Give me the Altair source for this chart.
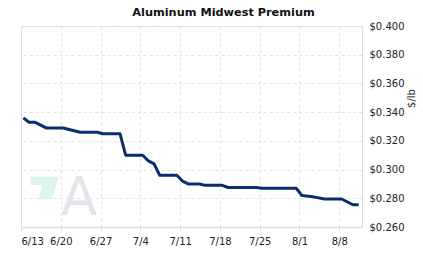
import altair as alt
import pandas as pd

dates = [
    "2022-06-13", "2022-06-14", "2022-06-15", "2022-06-17", "2022-06-20",
    "2022-06-23", "2022-06-26", "2022-06-27", "2022-06-30", "2022-07-01",
    "2022-07-04", "2022-07-05", "2022-07-06", "2022-07-07", "2022-07-10",
    "2022-07-11", "2022-07-12", "2022-07-14", "2022-07-15", "2022-07-18",
    "2022-07-19", "2022-07-24", "2022-07-25", "2022-07-31", "2022-08-01",
    "2022-08-03", "2022-08-05", "2022-08-08", "2022-08-10", "2022-08-11",
]
values = [
    0.336, 0.333, 0.333, 0.329, 0.329,
    0.326, 0.326, 0.325, 0.325, 0.310,
    0.310, 0.306, 0.304, 0.296, 0.296,
    0.292, 0.290, 0.290, 0.289, 0.289,
    0.2875, 0.2875, 0.287, 0.287, 0.282,
    0.281, 0.2795, 0.2795, 0.2755, 0.2755,
]
tick_dates = [(6, 13), (6, 20), (6, 27), (7, 4), (7, 11), (7, 18), (7, 25), (8, 1), (8, 8)]
y_ticks = [0.26, 0.28, 0.30, 0.32, 0.34, 0.36, 0.38, 0.40]

df = pd.DataFrame({"date": [d + "T10:00" for d in dates], "price": values})

FONT = "DejaVu Sans"
GRID = "#e3e3e3"

x_enc = alt.X(
    "date:T",
    scale=alt.Scale(domain=[alt.DateTime(year=2022, month=6, date=13),
                            alt.DateTime(year=2022, month=8, date=12)]),
    axis=alt.Axis(
        values=[alt.DateTime(year=2022, month=m, date=d) for m, d in tick_dates],
        format="%-m/%-d", title=None, grid=True, gridColor=GRID, gridDash=[3, 3],
        domainColor="#dddddd", domainWidth=1.5, tickColor="#dddddd", tickSize=4,
        labelFont=FONT, labelFontSize=10, labelColor="#222222", labelPadding=5,
    ),
)
y_enc = alt.Y(
    "price:Q",
    scale=alt.Scale(domain=[0.26, 0.40], nice=False, zero=False),
    axis=alt.Axis(
        orient="right", values=y_ticks, format="$.3f", title="$/lb",
        titleAngle=270, titleFont=FONT, titleFontSize=10, titleFontWeight="normal",
        titleColor="#222222", titleX=49, titleY=72, titleAlign="center",
        titleBaseline="middle",
        grid=True, gridColor=GRID, gridDash=[3, 3], domain=False, ticks=False,
        labelFont=FONT, labelFontSize=10, labelColor="#222222", labelPadding=7,
    ),
)

line = alt.Chart(df).mark_line(color="#0b2d6e", strokeWidth=3, strokeJoin="round").encode(
    x=x_enc, y=y_enc
)

logo_a = alt.Chart(pd.DataFrame({"t": ["A"]})).mark_text(
    font=FONT, fontSize=53, color="#e2e6ec", baseline="alphabetic", align="center"
).encode(text="t:N", x=alt.value(58), y=alt.value(189))

logo_g = alt.Chart(pd.DataFrame({"t": ["g"]})).mark_point(
    shape="M -1 -0.8 L 1 -0.8 L 0.53 0.8 L -0.42 0.8 L -0.18 -0.21 L -1 -0.21 Z",
    size=800, filled=True, fill="#dcf4ec", opacity=1, strokeWidth=0,
).encode(x=alt.value(23.5), y=alt.value(162))

chart = alt.layer(logo_g, logo_a, line).properties(
    width=341, height=201,
    title=alt.TitleParams(
        "Aluminum Midwest Premium", font=FONT, fontSize=11.3, fontWeight="bold",
        color="#111111", anchor="middle", dx=32, dy=15, offset=9, baseline="alphabetic",
    ),
    autosize=alt.AutoSizeParams(type="none"),
    padding={"left": 21, "top": 26, "right": 61, "bottom": 30},
).configure_view(stroke=None).configure(background="white")

chart.save("out.html", embed_options={"renderer": "svg", "actions": False})
